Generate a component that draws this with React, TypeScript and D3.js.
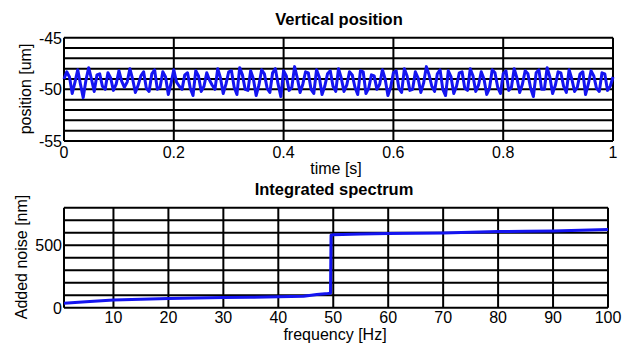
import React from "react";
import * as d3 from "d3";

const W = 630;
const H = 347;

// Top chart: vertical position (um), sampled every 0.005 s
const positionValues: number[] = [
  -49.0, -48.3, -48.8, -50.4,
  -49.3, -48.1, -49.5, -50.8,
  -49.1, -47.9, -49.0, -50.2,
  -48.6, -48.5, -49.7, -50.0,
  -48.4, -48.9, -50.1, -49.5,
  -48.2, -49.2, -49.8, -49.3,
  -48.0, -49.0, -50.3, -49.6,
  -48.7, -48.3, -49.9, -50.2,
  -48.5, -48.1, -50.0, -49.8,
  -48.3, -48.8, -50.5, -49.4,
  -48.1, -49.3, -49.7, -50.0,
  -48.6, -48.4, -49.9, -50.6,
  -48.2, -48.7, -50.2, -49.7,
  -48.4, -49.1, -49.6, -50.0,
  -48.0, -48.9, -50.4, -49.5,
  -48.3, -48.2, -49.8, -50.5,
  -47.9, -48.6, -50.0, -50.1,
  -48.2, -49.0, -50.6, -49.6,
  -48.1, -48.5, -49.9, -50.3,
  -48.4, -48.0, -49.5, -50.7,
  -48.2, -48.7, -50.1, -49.8,
  -47.8, -48.9, -50.3, -49.5,
  -48.3, -48.4, -50.0, -50.4,
  -48.1, -48.8, -50.5, -49.7,
  -48.5, -48.2, -49.7, -50.2,
  -48.0, -48.9, -50.2, -49.6,
  -48.3, -48.6, -49.8, -50.5,
  -48.2, -48.3, -50.4, -49.9,
  -48.6, -48.7, -50.0, -49.5,
  -48.1, -49.0, -50.6, -49.8,
  -48.4, -48.2, -49.9, -50.3,
  -48.0, -48.7, -50.1, -50.0,
  -48.3, -48.9, -50.3, -49.4,
  -47.8, -48.6, -49.7, -50.2,
  -48.5, -48.1, -50.0, -50.6,
  -48.2, -48.8, -50.4, -49.7,
  -48.4, -48.3, -49.9, -50.1,
  -48.0, -48.7, -50.2, -49.6,
  -48.3, -49.0, -50.5, -49.9,
  -48.1, -48.4, -49.8, -50.4,
  -48.5, -48.2, -50.1, -49.8,
  -48.0, -48.9, -50.3, -49.5,
  -48.2, -48.5, -49.9, -50.7,
  -48.4, -48.1, -50.0, -50.0,
  -47.9, -48.8, -50.4, -49.6,
  -48.3, -48.4, -49.7, -50.3,
  -48.1, -49.0, -50.2, -49.8,
  -48.5, -48.3, -50.5, -49.5,
  -48.2, -48.7, -49.9, -50.2,
  -48.4, -48.5, -50.1, -49.7,
  -48.8,
];
const timeStep = 0.005;
const timeTicks = [0, 0.2, 0.4, 0.6, 0.8, 1];
const timeTickLabels = ["0", "0.2", "0.4", "0.6", "0.8", "1"];
const posGrid = [-55, -54, -53, -52, -51, -50, -49, -48, -47, -46, -45];
const posTicks = [-55, -50, -45];

// Bottom chart: integrated spectrum
const freqs = [1, 5, 10, 15, 20, 25, 30, 35, 40, 44.6, 46, 47, 48, 49, 49.5, 49.6, 50, 55, 60, 65, 70, 75, 80, 85, 90, 95, 100];
const noiseValues = [35, 48, 61, 68, 74, 78, 82, 84, 87, 92, 100, 106, 110, 113, 115, 580, 583, 590, 593, 596, 598, 603, 609, 612, 614, 619, 625];
const freqTicks = [10, 20, 30, 40, 50, 60, 70, 80, 90, 100];
const noiseGrid = [0, 100, 200, 300, 400, 500, 600, 700, 800];
const noiseTicks = [0, 500];

const FONT = "'Liberation Sans', Arial, Helvetica, sans-serif";
const BLUE = "#1414f0";
const FS = 16;
const TFS = 16.5;

export default function App() {
  const xTop = d3.scaleLinear().domain([0, 1]).range([64, 613]);
  const yTop = d3.scaleLinear().domain([-55, -45]).range([141, 37.7]);
  const xBot = d3.scaleLinear().domain([1, 100]).range([64, 608]);
  const yBot = d3.scaleLinear().domain([0, 800]).range([307.7, 207.7]);

  const topLine = d3
    .line<number>()
    .x((_, i) => xTop(i * timeStep))
    .y((d) => yTop(d))(positionValues) as string;

  const botLine = d3
    .line<number>()
    .x((_, i) => xBot(freqs[i]))
    .y((d) => yBot(d))(noiseValues) as string;

  const gridStroke = 2;

  return (
    <svg
      width={W}
      height={H}
      style={{ position: "absolute", left: 0, top: 0, background: "#fff" }}
      fontFamily={FONT}
    >
      <rect x={0} y={0} width={W} height={H} fill="#fff" />
      {/* Top chart */}
      <text x={339} y={25} textAnchor="middle" fontSize={TFS} fontWeight="bold">
        Vertical position
      </text>
      {posGrid.map((v) => (
        <line key={"hg" + v} x1={xTop(0)} x2={xTop(1)} y1={yTop(v)} y2={yTop(v)} stroke="#000" strokeWidth={gridStroke} />
      ))}
      {timeTicks.map((t) => (
        <line key={"vg" + t} x1={xTop(t)} x2={xTop(t)} y1={yTop(-55)} y2={yTop(-45)} stroke="#000" strokeWidth={gridStroke} />
      ))}
      <path d={topLine} fill="none" stroke={BLUE} strokeWidth={3} strokeLinejoin="round" />
      {timeTicks.map((t, i) => (
        <text key={"tl" + t} x={xTop(t)} y={158} textAnchor="middle" fontSize={FS}>
          {timeTickLabels[i]}
        </text>
      ))}
      {posTicks.map((v) => (
        <text key={"pl" + v} x={62} y={yTop(v) + 6} textAnchor="end" fontSize={FS}>
          {String(v)}
        </text>
      ))}
      <text x={336} y={174} textAnchor="middle" fontSize={FS}>
        time [s]
      </text>
      <text transform={`translate(31,89) rotate(-90)`} textAnchor="middle" fontSize={FS}>
        position [um]
      </text>

      {/* Bottom chart */}
      <text x={334} y={195} textAnchor="middle" fontSize={TFS} fontWeight="bold">
        Integrated spectrum
      </text>
      {noiseGrid.map((v) => (
        <line key={"bhg" + v} x1={xBot(1)} x2={xBot(100)} y1={yBot(v)} y2={yBot(v)} stroke="#000" strokeWidth={gridStroke} />
      ))}
      {[1, ...freqTicks].map((f) => (
        <line key={"bvg" + f} x1={xBot(f)} x2={xBot(f)} y1={yBot(0)} y2={yBot(800)} stroke="#000" strokeWidth={gridStroke} />
      ))}
      <path d={botLine} fill="none" stroke={BLUE} strokeWidth={3} strokeLinejoin="round" />
      {freqTicks.map((f) => (
        <text key={"fl" + f} x={xBot(f)} y={323} textAnchor="middle" fontSize={FS}>
          {String(f)}
        </text>
      ))}
      {noiseTicks.map((v) => (
        <text key={"nl" + v} x={62} y={yBot(v) + 6} textAnchor="end" fontSize={FS}>
          {String(v)}
        </text>
      ))}
      <text x={335} y={339.5} textAnchor="middle" fontSize={FS}>
        frequency [Hz]
      </text>
      <text transform={`translate(27,257) rotate(-90)`} textAnchor="middle" fontSize={FS}>
        Added noise [nm]
      </text>
    </svg>
  );
}
